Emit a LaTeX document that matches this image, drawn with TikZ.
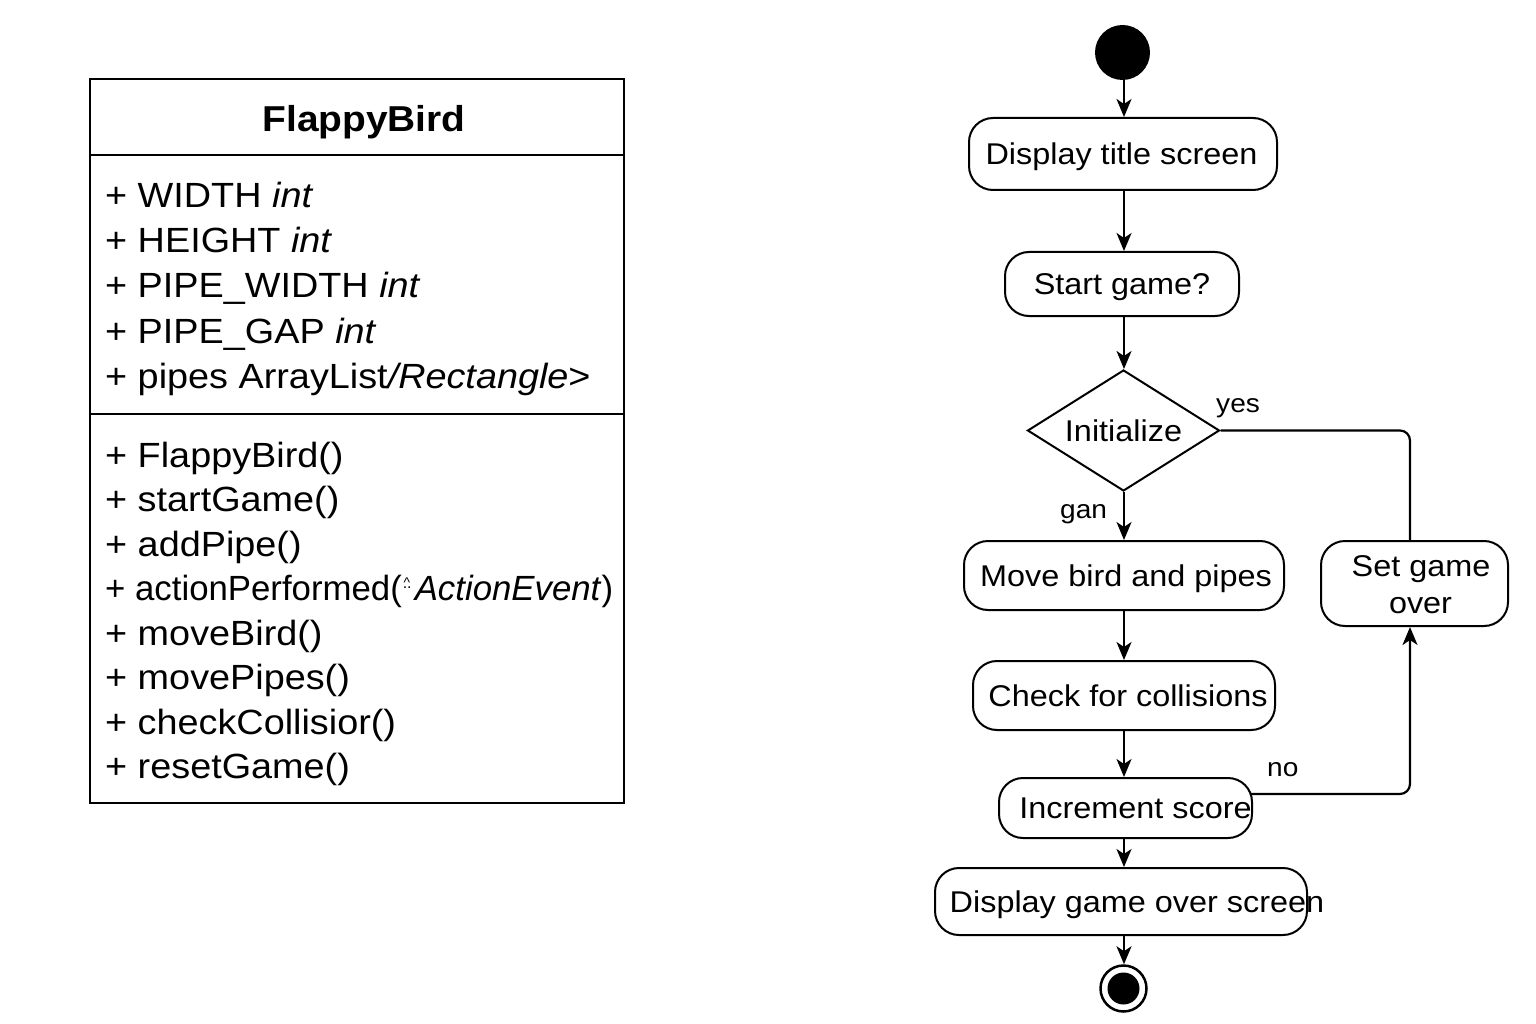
\documentclass[tikz,border=0pt]{standalone}
\usepackage{fontspec}
\setmainfont{Liberation Sans}[FakeStretch=1.08]
\usetikzlibrary{arrows.meta,shapes.geometric}
\newcommand{\clsfont}{\fontsize{35}{42}\selectfont}
\newcommand{\flowfont}{\fontsize{30}{36}\selectfont}
\newcommand{\lblfont}{\fontsize{26}{30}\selectfont}
\newcommand{\oddgly}{\makebox[14pt][l]{\rlap{\raisebox{13pt}{\fontsize{14}{14}\selectfont\kern2pt\textasciicircum}}\raisebox{12pt}{\fontsize{16}{16}\selectfont\kern1pt..}}}
\begin{document}
\begin{tikzpicture}[x=1pt,y=-1pt,
  attr/.style={anchor=base west, inner sep=0pt, font=\clsfont},
  act/.style={draw, line width=2pt, rounded corners=24pt, inner sep=0pt,
              text height=21pt, text depth=0pt, font=\flowfont},
  lbl/.style={anchor=base west, inner sep=0pt, font=\lblfont},
  conn/.style={line width=2.2pt},
  arr/.style={line width=2.2pt, -{Stealth[length=18pt,width=15pt,inset=5pt]}}]
\path[fill=white] (0,0) rectangle (1536,1024);
\useasboundingbox (0,0) rectangle (1536,1024);

% ---------- class box ----------
\node[draw, line width=2.2pt, minimum width=534pt, minimum height=724pt, inner sep=0pt] (cls) at (357,441) {};
\coordinate (s1) at (0,155);
\coordinate (s2) at (0,414);
\draw[line width=2pt] (cls.west |- s1) -- (cls.east |- s1);
\draw[line width=2pt] (cls.west |- s2) -- (cls.east |- s2);
\node[anchor=base, inner sep=0pt, font=\bfseries\fontsize{36}{40}\selectfont] (title) at (364,132) {FlappyBird};

\node[attr] (a1) at (105,208) {+ WIDTH \textit{int}};
\node[attr] (a2) at (105,253) {+ HEIGHT \textit{int}};
\node[attr] (a3) at (105,298) {+ PIPE\_WIDTH \textit{int}};
\node[attr] (a4) at (105,343) {+ PIPE\_GAP \textit{int}};
\node[attr] (a5) at (105,388) {+ pipes ArrayList\textit{/Rectangle}>};

\node[attr] (m1) at (105,467) {+ FlappyBird()};
\node[attr] (m2) at (105,511) {+ startGame()};
\node[attr] (m3) at (105,556) {+ addPipe()};
\node[attr] (m4) at (105,600) {\scalebox{0.92}[1]{+ actionPerformed(\oddgly\textit{ActionEvent})}};
\node[attr] (m5) at (105,645) {+ moveBird()};
\node[attr] (m6) at (105,689) {+ movePipes()};
\node[attr] (m7) at (105,734) {+ checkCollisior()};
\node[attr] (m8) at (105,778) {+ resetGame()};

% ---------- activity diagram ----------
\coordinate (col) at (1124,0);
\coordinate (vx) at (1410,0);
\coordinate (nost) at (1250,794);

\node[circle, fill=black, minimum size=55pt, inner sep=0pt] (start) at (1122.5,52.5) {};
\node[act, minimum width=308pt, minimum height=72pt] (dts) at (1123,154) {\makebox[0pt]{Display title screen\hspace*{3pt}}};
\node[act, minimum width=234pt, minimum height=64pt] (sg) at (1122,284) {\makebox[0pt]{Start game?}};
\node[diamond, draw, line width=2pt, minimum width=192pt, minimum height=121pt, inner sep=0pt,
      text height=21pt, text depth=0pt, font=\flowfont] (dec) at (1123.5,430.5) {\makebox[0pt]{Initialize}};
\node[act, minimum width=320pt, minimum height=69pt] (mbp) at (1124,575.5) {\makebox[0pt]{\hspace*{4pt}Move bird and pipes}};
\node[act, minimum width=187pt, minimum height=85pt] (sgo) at (1414.5,583.5) {};
\node[anchor=base, inner sep=0pt, font=\flowfont] (sgo1) at (1421,576) {Set game};
\node[anchor=base, inner sep=0pt, font=\flowfont] (sgo2) at (1420.5,613) {over};
\node[act, minimum width=302pt, minimum height=69pt] (cfc) at (1124,695.5) {\makebox[0pt]{\hspace*{8pt}Check for collisions}};
\node[act, minimum width=253pt, minimum height=60pt] (is) at (1125.5,808) {\makebox[0pt]{\hspace*{20pt}Increment score}};
\node[act, minimum width=372pt, minimum height=67pt] (dgos) at (1121,901.5) {\makebox[0pt]{\hspace*{32pt}Display game over screen}};
\node[circle, draw, line width=2.5pt, minimum size=46pt, inner sep=0pt] (end) at (1123.5,988.5) {};
\node[circle, fill=black, minimum size=32pt, inner sep=0pt] (endin) at (end) {};

\draw[arr] (start.south -| col) -- (dts.north -| col);
\draw[arr] (dts.south -| col) -- (sg.north -| col);
\draw[arr] (sg.south -| col) -- (dec.north -| col);
\draw[arr] (dec.south -| col) -- (mbp.north -| col);
\draw[arr] (mbp.south -| col) -- (cfc.north -| col);
\draw[arr] (cfc.south -| col) -- (is.north -| col);
\draw[arr] (is.south -| col) -- (dgos.north -| col);
\draw[arr] (dgos.south -| col) -- (end.north -| col);
\draw[conn, rounded corners=10pt] (dec.east) -| (sgo.north -| vx);
\draw[arr, rounded corners=10pt] (nost) -| (sgo.south -| vx);

\node[lbl] (lyes) at (1216,412) {yes};
\node[lbl] (lgan) at (1060,518) {gan};
\node[lbl] (lno) at (1267,776) {no};
\end{tikzpicture}
\end{document}
